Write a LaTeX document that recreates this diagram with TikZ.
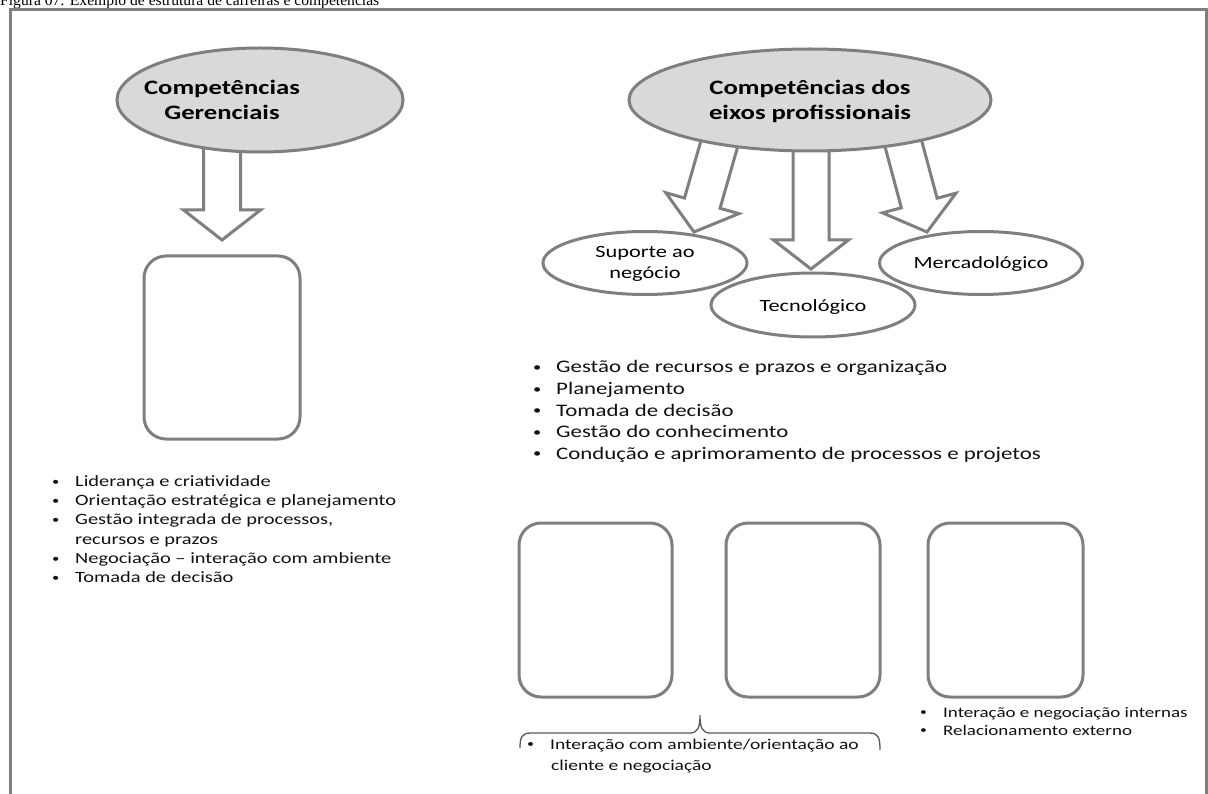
\documentclass[tikz,border=0pt]{standalone}
\usepackage{graphicx}
\usepackage{fontspec}
\setmainfont{Carlito}[FakeStretch=1.3]
\newfontfamily\capfont{Liberation Serif}
\usetikzlibrary{shapes.geometric}
\definecolor{edge}{HTML}{7F7F7F}
\definecolor{bubble}{HTML}{D9D9D9}
\definecolor{bracegray}{HTML}{595959}
\definecolor{ink}{HTML}{111111}
% small bullet followed by a fixed indent
\newcommand\bulitem[1]{\makebox[23pt][l]{\raisebox{0.08em}{\scalebox{0.72}{\textbullet}}}#1}
% hollow block arrow pointing down, tip at the local origin
% #1 shaft half width, #2 head half width, #3 head length, #4 total length
\newcommand\hollowarrow[4]{%
  \path[blockarrow] (-#1,-#4) -- (-#1,-#3) -- (-#2,-#3) -- (0,0)
    -- (#2,-#3) -- (#1,-#3) -- (#1,-#4) -- cycle;}
\tikzset{
  outline/.style={draw=edge,line width=3pt},
  oval/.style={outline,ellipse,inner sep=0pt},
  card/.style={outline,rounded corners=22pt},
  blockarrow/.style={outline,fill=white,line join=miter},
  hdr/.style={anchor=base,inner sep=0pt,text=black,font=\fontsize{20.5}{25}\selectfont\bfseries},
  lbl/.style={anchor=base,inner sep=0pt,text=black,font=\fontsize{17.2}{21}\selectfont},
  leftitem/.style={anchor=base west,inner sep=0pt,text=ink,font=\fontsize{15.7}{19}\selectfont},
  miditem/.style={anchor=base west,inner sep=0pt,text=ink,font=\fontsize{17.6}{21}\selectfont},
  lowitem/.style={anchor=base west,inner sep=0pt,text=ink,font=\fontsize{15}{18}\selectfont},
  sideitem/.style={anchor=base west,inner sep=0pt,text=ink,font=\fontsize{14.6}{18}\selectfont},
}
\begin{document}
\begin{tikzpicture}[x=1pt,y=-1pt]
\useasboundingbox (0,0) rectangle (1208,794);
\clip (0,0) rectangle (1208,794);
\fill[white] (0,0) rectangle (1208,794);

% caption (its top runs off the page) and outer frame
\node[anchor=base west,inner sep=0pt,font=\capfont\fontsize{15.6}{18}\selectfont] (cap) at (0,6)
  {Figura 07: Exemplo de estrutura de carreiras e competências};
\draw[outline] (10,820) -- (10,10) -- (1206,10) -- (1206,820);

% arrows (drawn first, the ovals cover their tops)
\begin{scope}[shift={(222,240)}]\hollowarrow{18.5}{38.5}{30}{100}\end{scope}
\begin{scope}[shift={(694,232)},rotate=-16]\hollowarrow{18.5}{38}{30}{100}\end{scope}
\begin{scope}[shift={(811,269)}]\hollowarrow{18}{37.5}{29}{129}\end{scope}
\begin{scope}[shift={(927,232)},rotate=15]\hollowarrow{18.5}{38}{30}{100}\end{scope}

% management competences
\node[oval,fill=bubble,minimum width=286pt,minimum height=104pt] (ger) at (260,100) {};
\node[hdr] (ger1) at (222,95) {Competências};
\node[hdr] (ger2) at (222,120) {Gerenciais};
\draw[card] (144,256) rectangle (300,439);
\node[leftitem] (g1) at (52,486.5) {\bulitem{Liderança e criatividade}};
\node[leftitem] (g2) at (52,505.7) {\bulitem{Orientação estratégica e planejamento}};
\node[leftitem] (g3) at (52,524.9) {\bulitem{Gestão integrada de processos,}};
\node[leftitem] (g3b) at (75,544.1) {recursos e prazos};
\node[leftitem] (g4) at (52,563.3) {\bulitem{Negociação – interação com ambiente}};
\node[leftitem] (g5) at (52,582.5) {\bulitem{Tomada de decisão}};

% professional axes
\node[oval,fill=bubble,minimum width=362pt,minimum height=102pt] (eix) at (810,100) {};
\node[hdr] (eix1) at (810,95) {Competências dos};
\node[hdr] (eix2) at (810,120) {eixos profissionais};

\node[oval,fill=white,minimum width=204pt,minimum height=63pt] (sup) at (645,263) {};
\node[lbl] (sup1) at (645,258) {Suporte ao};
\node[lbl] (sup2) at (645,279) {negócio};
\node[oval,fill=white,minimum width=204pt,minimum height=64pt] (tec) at (813,305) {};
\node[lbl] (tec1) at (813,312) {Tecnológico};
\node[oval,fill=white,minimum width=203pt,minimum height=63pt] (mer) at (981,263) {};
\node[lbl] (mer1) at (981,269) {Mercadológico};

\node[miditem] (e1) at (533,373) {\bulitem{Gestão de recursos e prazos e organização}};
\node[miditem] (e2) at (533,394.5) {\bulitem{Planejamento}};
\node[miditem] (e3) at (533,416) {\bulitem{Tomada de decisão}};
\node[miditem] (e4) at (533,437.5) {\bulitem{Gestão do conhecimento}};
\node[miditem] (e5) at (533,459) {\bulitem{Condução e aprimoramento de processos e projetos}};

\draw[card] (519,523) rectangle (672,697);
\draw[card] (726,523) rectangle (880,697);
\draw[card] (928,523) rectangle (1083,697);

% brace under the first two cards
\draw[bracegray,line width=1.3pt]
  (520,748) .. controls (520,737) and (522,733) .. (531,733) -- (690,733)
  .. controls (698,733) and (700,727) .. (700,715)
  .. controls (700,727) and (702,733) .. (710,733) -- (869,733)
  .. controls (878,733) and (880,737) .. (880,750);
\node[lowitem] (b1) at (527,749) {\bulitem{Interação com ambiente/orientação ao}};
\node[lowitem] (b1b) at (551,770) {cliente e negociação};

\node[sideitem] (m1) at (920,717) {\bulitem{Interação e negociação internas}};
\node[sideitem] (m2) at (920,735) {\bulitem{Relacionamento externo}};
\end{tikzpicture}
\end{document}
